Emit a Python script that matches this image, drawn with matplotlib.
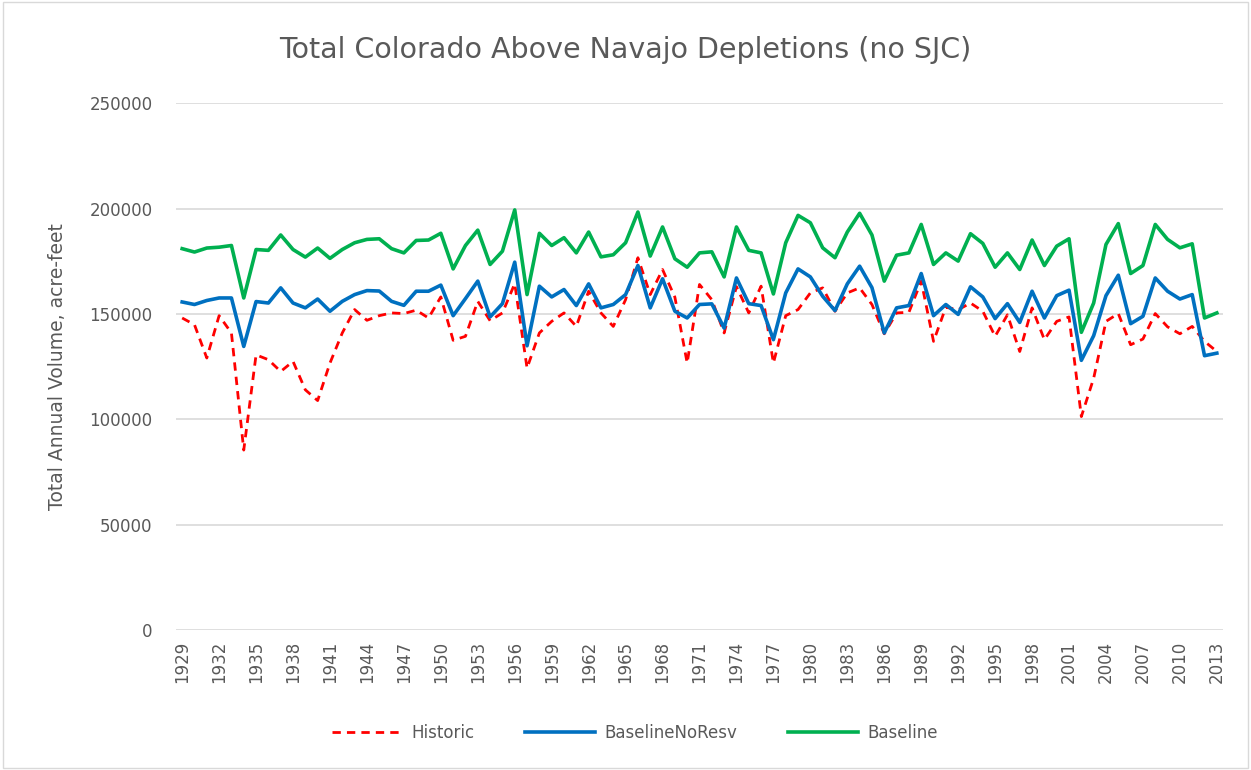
"""
Total Colorado Above Navajo depletions, 1929-2013 (no SJC).
"""

import matplotlib
matplotlib.use("Agg")
import matplotlib.pyplot as plt
from matplotlib.patches import Rectangle

# Annual depletions, acre-feet
years = list(range(1929, 2014))

historic = [
    148100, 144900, 129100, 149200, 141000, 85400, 130600, 128300, 122700, 127500,
    114000, 108900, 126700, 141000, 152100, 147000, 149200, 150500, 150200, 151800,
    148100, 158100, 137500, 139400, 156000, 146800, 150500, 164400, 124300, 141000,
    146500, 150500, 144100, 160800, 150500, 144100, 156800, 176700, 159200, 171100,
    158000, 126700, 164000, 156800, 141000, 163000, 150500, 163200, 126700, 149200,
    152100, 160000, 162400, 151300, 160000, 162400, 154500, 140600, 150500, 150800,
    165600, 137000, 153200, 152000, 155200, 151300, 139400, 149600, 132200, 152900,
    137800, 146500, 148600, 101300, 119500, 146500, 150200, 135400, 138100, 150200,
    143900, 140600, 144100, 137000, 132200,
]

baseline_no_resv = [
    155700, 154500, 156400, 157600, 157600, 134600, 155900, 155200, 162400, 155200,
    152900, 157100, 151300, 156000, 159200, 161100, 160900, 156000, 154100, 160800,
    160800, 163700, 149200, 157300, 165600, 148600, 154900, 174600, 134900, 163200,
    158100, 161600, 154000, 164300, 152900, 154500, 159200, 173000, 152900, 166700,
    151300, 148100, 154500, 154800, 143300, 167100, 154900, 154000, 137800, 160000,
    171400, 167600, 158400, 151600, 164300, 172700, 162500, 141000, 152900, 154000,
    169200, 149200, 154500, 149800, 162900, 158100, 147800, 154900, 146000, 160800,
    148100, 158700, 161300, 128000, 139700, 158700, 168400, 145400, 148900, 167100,
    160800, 157100, 159200, 130200, 131400,
]

baseline = [
    181000, 179400, 181300, 181700, 182500, 157600, 180600, 180200, 187500, 180600,
    177000, 181300, 176400, 180600, 183800, 185400, 185700, 181000, 179000, 184900,
    185100, 188300, 171400, 182500, 189800, 173500, 179800, 199400, 159200, 188300,
    182500, 186200, 179000, 188900, 177100, 178100, 183800, 198400, 177500, 191300,
    176200, 172200, 179000, 179500, 167600, 191300, 180200, 179000, 159500, 183800,
    196800, 193300, 181400, 176700, 188900, 197800, 187500, 165600, 177900, 179000,
    192500, 173500, 179000, 175100, 188100, 183500, 172200, 179000, 171100, 185100,
    173000, 182200, 185700, 141300, 155200, 183000, 192900, 169200, 173000, 192500,
    185400, 181400, 183300, 148100, 150500,
]

TEXT_GRAY = "#595959"
GRID_GRAY = "#D9D9D9"

fig = plt.figure(figsize=(12.51, 7.70), dpi=100)
ax = fig.add_axes([176 / 1251, 140 / 770, 1047 / 1251, 526.7 / 770])

ax.plot(years, historic, color="#FF0000", linewidth=2.0, linestyle=(0, (3, 2.2)),
        label="Historic")
ax.plot(years, baseline_no_resv, color="#0070C0", linewidth=2.6,
        label="BaselineNoResv")
ax.plot(years, baseline, color="#00B050", linewidth=2.6, label="Baseline")

# Category-style axis: half a year padding on each side
ax.set_xlim(years[0] - 0.5, years[-1] + 0.5)
ax.set_ylim(0, 250000)
ax.set_xticks(years[::3])
ax.set_xticklabels([str(y) for y in years[::3]], rotation=90)
ax.set_yticks(range(0, 250001, 50000))

ax.grid(axis="y", color=GRID_GRAY, linewidth=1.2)
ax.set_axisbelow(True)
for side in ["top", "right", "left", "bottom"]:
    ax.spines[side].set_visible(False)
ax.tick_params(axis="both", length=0, colors=TEXT_GRAY, labelsize=12)
ax.tick_params(axis="y", pad=17)
ax.tick_params(axis="x", pad=8)

ax.set_ylabel("Total Annual Volume, acre-feet", color=TEXT_GRAY, fontsize=13.5,
              labelpad=16)
fig.text(0.5, 1 - 50 / 770, "Total Colorado Above Navajo Depletions (no SJC)",
         ha="center", va="center", color=TEXT_GRAY, fontsize=20.5)

leg = ax.legend(loc="center", bbox_to_anchor=(635 / 1251, 1 - 733 / 770),
                bbox_transform=fig.transFigure, ncol=3, frameon=False,
                fontsize=12, handlelength=4.2, columnspacing=3.0, handletextpad=0.6)
for t in leg.get_texts():
    t.set_color(TEXT_GRAY)

# Light chart-area border
fig.patches.append(Rectangle((0.002, 0.002), 0.996, 0.996, transform=fig.transFigure,
                             fill=False, edgecolor="#D9D9D9", linewidth=1.0))

fig.savefig("out.png", dpi=100)
